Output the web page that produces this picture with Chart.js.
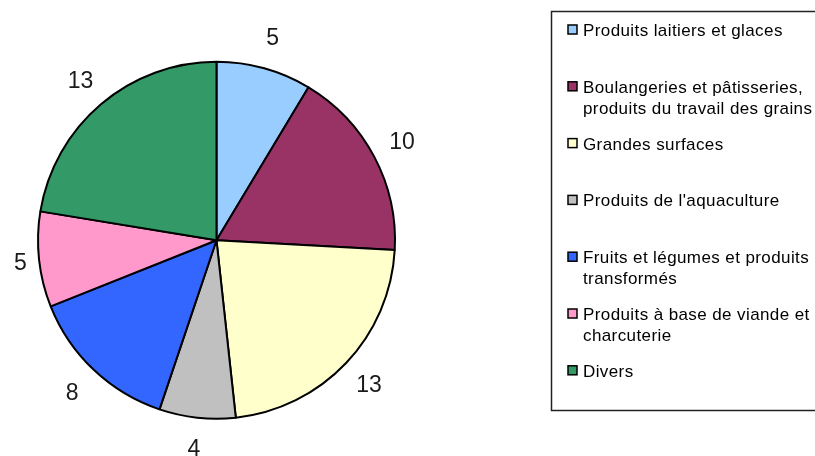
<!DOCTYPE html>
<html>
<head>
<meta charset="utf-8">
<script src="https://cdn.jsdelivr.net/npm/chart.js@4/dist/chart.umd.min.js"></script>
<style>
    html, body { margin: 0; padding: 0; background: #fff; }
    #wrap { width: 815px; height: 456px; position: relative; }
</style>
</head>
<body>
<div id="wrap"><canvas id="myChart"></canvas></div>
<script>
const CATEGORIES = [
    "Produits laitiers et glaces",
    ["Boulangeries et pâtisseries,", "produits du travail des grains"],
    "Grandes surfaces",
    "Produits de l'aquaculture",
    ["Fruits et légumes et produits", "transformés"],
    ["Produits à base de viande et", "charcuterie"],
    "Divers",
];
const VALUES = [5, 10, 13, 4, 8, 5, 13];
const COLORS = [
    "#99CCFF",
    "#993366",
    "#FFFFCC",
    "#C0C0C0",
    "#3366FF",
    "#FF99CC",
    "#339966",
];

// value labels just outside each slice
const sliceLabels = {
    id: "sliceLabels",
    afterDatasetsDraw(chart) {
        const ctx = chart.ctx;
        const meta = chart.getDatasetMeta(0);
        const values = chart.data.datasets[0].data;
        ctx.save();
        ctx.font = "23px 'Liberation Sans', Arial, sans-serif";
        ctx.fillStyle = "#1a1a1a";
        ctx.textAlign = "center";
        ctx.textBaseline = "middle";
        meta.data.forEach((arc, i) => {
            const p = arc.getProps(["x", "y", "startAngle", "endAngle", "outerRadius"], true);
            const mid = (p.startAngle + p.endAngle) / 2;
            const d = p.outerRadius + 31.5;
            const text = String(values[i]);
            const w = ctx.measureText(text).width;
            let x = p.x + Math.cos(mid) * d;
            const y = p.y + Math.sin(mid) * d + 1;
            if (x - w / 2 < 14) x = 14 + w / 2;
            ctx.fillText(text, x, y);
        });
        ctx.restore();
    },
};

// boxed legend on the right, like the original
const boxLegend = {
    id: "boxLegend",
    afterDraw(chart) {
        const ctx = chart.ctx;
        const labels = chart.data.labels;
        const colors = chart.data.datasets[0].backgroundColor;
        ctx.save();
        ctx.strokeStyle = "#222";
        ctx.lineWidth = 1.5;
        ctx.strokeRect(551.5, 11.5, 300, 399);

        ctx.font = "17px 'Liberation Sans', Arial, sans-serif";
        ctx.letterSpacing = "0.4px";
        ctx.textAlign = "left";
        ctx.textBaseline = "alphabetic";
        const step = 56.8;
        labels.forEach((lab, i) => {
            const base = 36 + i * step;
            ctx.fillStyle = colors[i];
            ctx.fillRect(568, base - 11, 9, 9);
            ctx.strokeStyle = "#000";
            ctx.lineWidth = 1.5;
            ctx.strokeRect(568, base - 11, 9, 9);
            ctx.fillStyle = "#000";
            const lines = Array.isArray(lab) ? lab : [lab];
            lines.forEach((ln, j) => {
                ctx.fillText(ln, 583, base + j * 21);
            });
        });
        ctx.restore();
    },
};

const data1 = {
    labels: CATEGORIES,
    datasets: [
        {
            data: VALUES,
            backgroundColor: COLORS,
            borderColor: "#000",
            borderWidth: 2,
        },
    ],
};

const config1 = {
    type: "pie",
    data: data1,
    options: {
        responsive: true,
        maintainAspectRatio: false,
        animation: false,
        layout: {
            padding: { left: 37, top: 60.5, right: 419, bottom: 36 },
        },
        plugins: {
            legend: { display: false },
            tooltip: { enabled: false },
        },
    },
    plugins: [sliceLabels, boxLegend],
};

var ctx = document.getElementById("myChart").getContext("2d");
var myChart = new Chart(ctx, config1);
</script>
</body>
</html>
